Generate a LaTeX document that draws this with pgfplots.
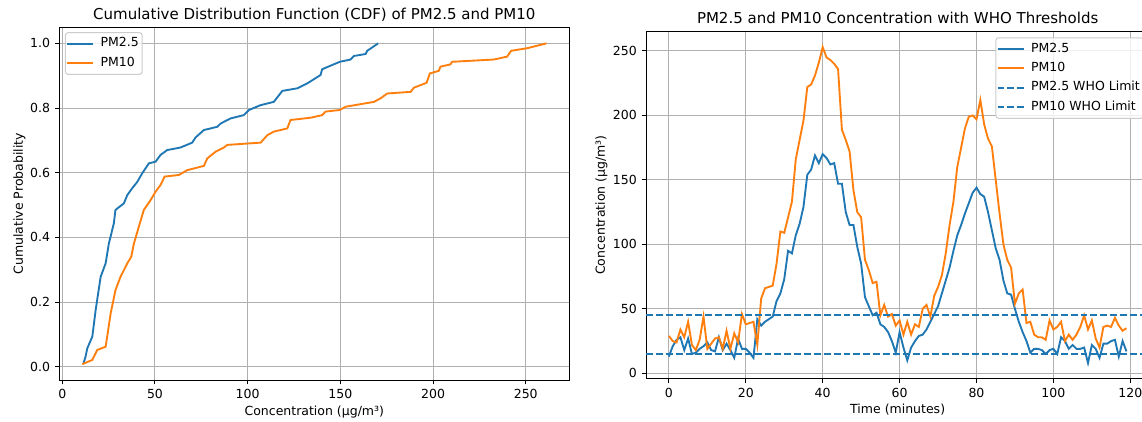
\documentclass[border=0pt]{standalone}
\usepackage{fontspec}
\setmainfont{DejaVu Sans}
\usepackage{pgfplots}
\usepackage{pgfplotstable}
\pgfplotsset{compat=1.18}
\definecolor{c0}{HTML}{1F77B4}
\definecolor{c1}{HTML}{FF7F0E}
\definecolor{gridc}{HTML}{B0B0B0}
\definecolor{legc}{HTML}{CCCCCC}

% time series (minutes)
\pgfplotstableread{
t pm25 pm10
0 13 29
1 21 25
2 26 24
3 28 34
4 18 28
5 27 40
6 15 22
7 16 18
8 19 26
9 21 44
10 24 19
11 18 23
12 17 27
13 28 28
14 18 19
15 23 33
16 18 19
17 12 31
18 27 24
19 19 46
20 19 38
21 16 39
22 12 40
23 42 22
24 37 58
25 40 66
26 42 67
27 44 68
28 56 85
29 62 110
30 73 109
31 95 121
32 93 133
33 107 166
34 116 181
35 129 196
36 154 222
37 158 224
38 169 231
39 163 241
40 170 253
41 167 245
42 162 243
43 163 240
44 147 236
45 147 189
46 125 181
47 115 172
48 115 142
49 98 125
50 85 121
51 59 88
52 52 80
53 45 70
54 47 71
55 38 45
56 36 53
57 32 44
58 25 46
59 16 37
60 32 41
61 20 30
62 10 40
63 20 30
64 25 38
65 29 36
66 30 50
67 34 53
68 40 44
69 46 60
70 52 67
71 62 76
72 72 93
73 82 115
74 95 133
75 107 160
76 115 175
77 124 190
78 132 199
79 140 200
80 144 197
81 139 212
82 137 193
83 125 182
84 111 176
85 97 150
86 88 124
87 72 100
88 62 88
89 61 82
90 50 54
91 40 62
92 32 65
93 25 39
94 16 40
95 19 30
96 19 28
97 18 28
98 15 26
99 18 41
100 19 34
101 15 36
102 28 40
103 25 25
104 19 30
105 22 26
106 19 30
107 19 36
108 20 45
109 8 34
110 22 41
111 19 27
112 12 20
113 23 36
114 23 37
115 25 36
116 26 43
117 13 37
118 25 33
119 17 35
}\tsdata

% empirical CDF, PM2.5
\pgfplotstableread{
x p
11.3 0.008
12.5 0.03
13.5 0.057
16.2 0.093
18.0 0.175
20.7 0.278
23.4 0.320
25.1 0.380
27.8 0.443
28.7 0.485
33.2 0.505
35.1 0.531
37.7 0.552
40.5 0.572
43.1 0.598
46.7 0.629
50.3 0.634
53.0 0.655
56.6 0.670
63.8 0.678
70.1 0.693
71.9 0.709
76.4 0.732
83.6 0.742
85.4 0.752
90.8 0.768
97.9 0.778
100.7 0.794
107.0 0.809
114.1 0.819
118.7 0.853
126.8 0.861
132.1 0.876
139.3 0.902
140.2 0.920
149.7 0.943
155.5 0.950
157.3 0.961
163.6 0.967
164.5 0.977
170.4 1.000
}\cdfa

% empirical CDF, PM10
\pgfplotstableread{
x p
10.8 0.008
16.2 0.021
18.9 0.052
23.4 0.062
26.1 0.165
28.7 0.237
31.4 0.278
35.1 0.320
37.2 0.340
38.6 0.380
41.3 0.433
44.0 0.485
47.6 0.515
50.3 0.541
53.0 0.562
55.2 0.588
62.9 0.593
67.4 0.608
76.4 0.621
78.2 0.644
82.7 0.665
87.2 0.678
89.0 0.686
107.0 0.693
110.6 0.716
114.1 0.727
121.4 0.737
123.1 0.763
133.9 0.770
140.2 0.778
142.0 0.789
149.7 0.794
152.8 0.804
168.1 0.819
171.7 0.830
175.3 0.845
187.9 0.850
189.7 0.863
196.5 0.878
198.3 0.907
203.1 0.915
204.0 0.928
209.4 0.935
210.3 0.943
232.8 0.950
240.0 0.959
242.1 0.977
250.8 0.985
261.2 1.000
}\cdfb

\pgfplotsset{
  mpl/.style={
    scale only axis, anchor=south west,
    axis line style={black, line width=0.72pt},
    tick align=outside, tick pos=left,
    major tick length=3.15pt,
    every tick/.style={black, line width=0.72pt},
    grid=major, major grid style={gridc, line width=0.72pt},
    /pgf/number format/assume math mode=true,
    tick label style={font=\fontsize{9}{11}\selectfont},
    label style={font=\fontsize{9}{11}\selectfont},
    title style={font=\fontsize{10.8}{13}\selectfont, anchor=base, yshift=-0.6pt},
    xlabel style={yshift=2pt},
    legend cell align=left,
    legend style={font=\fontsize{9}{11}\selectfont, draw=legc, line width=0.72pt,
      rounded corners=2pt, fill=white, fill opacity=0.8, text opacity=1,
      inner xsep=0.5pt, inner ysep=1pt, row sep=0pt, column sep=2.5pt,
      nodes={inner xsep=2pt, inner ysep=2.5pt, text height=6.8pt, text depth=2.2pt}},
    legend image code/.code={\draw[#1, line width=1.35pt] (0pt,0pt) -- (19pt,0pt);},
    every axis plot/.append style={line width=1.35pt, no markers},
  }
}

\begin{document}
\begin{tikzpicture}
\begin{axis}[mpl,
  at={(42.70pt,29.45pt)}, width=367.2pt, height=254.0pt,
  xmin=-1.6, xmax=273.5, ymin=-0.0413, ymax=1.0496,
  xtick={0,50,100,150,200,250},
  ytick={0,0.2,0.4,0.6,0.8,1},
  yticklabel style={/pgf/number format/.cd, fixed, fixed zerofill, precision=1},
  title={Cumulative Distribution Function (CDF) of PM2.5 and PM10},
  xlabel={Concentration (µg/m³)},
  ylabel={Cumulative Probability},
  ylabel style={yshift=-3.5pt},
  legend style={at={(0,1)}, anchor=north west, xshift=4pt, yshift=-3.5pt},
]
\addplot[c0] table[x=x, y=p] {\cdfa};
\addlegendentry{PM2.5}
\addplot[c1] table[x=x, y=p] {\cdfb};
\addlegendentry{PM10}
\end{axis}

\begin{axis}[mpl,
  at={(465.12pt,30.38pt)}, width=362.4pt, height=250.2pt,
  xmin=-5.95, xmax=124.95, ymin=-4.25, ymax=265.25,
  xtick={0,20,40,60,80,100,120},
  ytick={0,50,100,150,200,250},
  title={PM2.5 and PM10 Concentration with WHO Thresholds},
  xlabel={Time (minutes)},
  ylabel={Concentration (µg/m³)},
  ylabel style={yshift=-3pt},
  legend style={at={(1,1)}, anchor=north east, xshift=-4pt, yshift=-4.3pt},
]
\addplot[c0] table[x=t, y=pm25] {\tsdata};
\addlegendentry{PM2.5}
\addplot[c1] table[x=t, y=pm10] {\tsdata};
\addlegendentry{PM10}
\addplot[c0, dash pattern=on 4.96pt off 2.15pt] coordinates {(-5.95,15) (124.95,15)};
\addlegendentry{PM2.5 WHO Limit}
\addplot[c0, dash pattern=on 4.96pt off 2.15pt] coordinates {(-5.95,45) (124.95,45)};
\addlegendentry{PM10 WHO Limit}
\end{axis}
\pgfresetboundingbox
\path[use as bounding box] (0,0) rectangle (822.24pt,303.12pt);
\end{tikzpicture}
\end{document}
